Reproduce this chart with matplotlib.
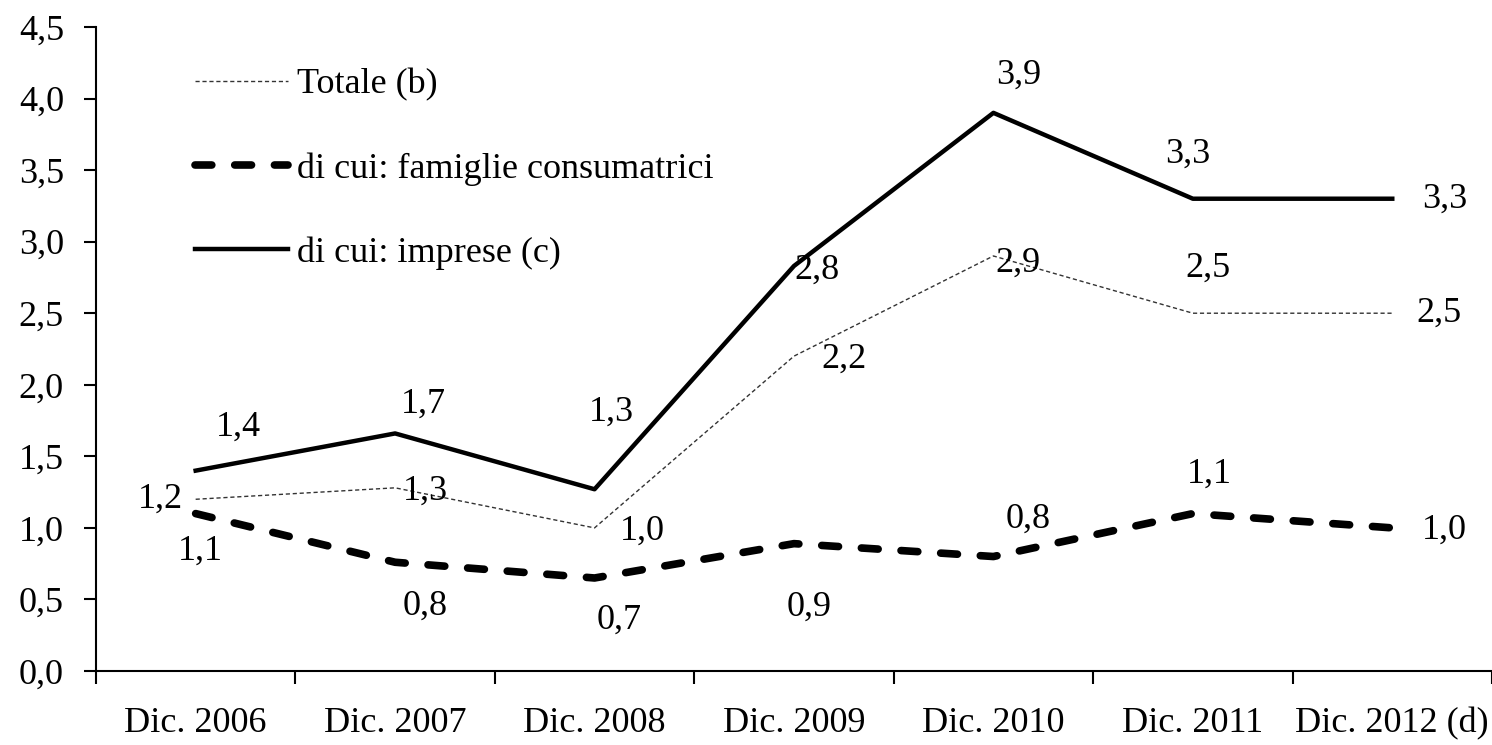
import matplotlib.pyplot as plt
from matplotlib.ticker import FuncFormatter

plt.rcParams['font.family'] = ['Liberation Serif', 'DejaVu Serif']

categorie = ['Dic. 2006', 'Dic. 2007', 'Dic. 2008', 'Dic. 2009',
             'Dic. 2010', 'Dic. 2011', 'Dic. 2012 (d)']
totale = [1.2, 1.28, 1.0, 2.2, 2.9, 2.5, 2.5]
famiglie = [1.1, 0.76, 0.65, 0.89, 0.8, 1.1, 1.0]
imprese = [1.4, 1.66, 1.27, 2.83, 3.9, 3.3, 3.3]

lab_totale = ['1,2', '1,3', '1,0', '2,2', '2,9', '2,5', '2,5']
lab_famiglie = ['1,1', '0,8', '0,7', '0,9', '0,8', '1,1', '1,0']
lab_imprese = ['1,4', '1,7', '1,3', '2,8', '3,9', '3,3', '3,3']

# label offsets in pixels (dx, dy up)
off_totale = [(-35, 0), (30, -3), (48, -3), (50, -3), (25, -7), (15, 45), (47, 0)]
off_famiglie = [(5, -38), (30, -44), (25, -42), (15, -64), (35, 37), (17, 39), (52, -2)]
off_imprese = [(43, 43), (28, 29), (17, 77), (23, -4), (25, 38), (-5, 44), (52, -1)]

FS = 26

fig = plt.figure(figsize=(14.92, 7.45), dpi=100)
ax = fig.add_axes([0.0643, 0.0993, 0.9357, 0.8645])

x = list(range(len(categorie)))
ax.plot(x, totale, color='#333333', lw=1.0, ls=(0, (3, 2)), label='Totale (b)')
ax.plot(x, famiglie, color='black', lw=5.5, ls=(0, (2.2, 3.0)), dash_capstyle='round',
        label='di cui: famiglie consumatrici')
ax.plot(x, imprese, color='black', lw=3.2, label='di cui: imprese (c)')

for vals, labs, offs in [(totale, lab_totale, off_totale),
                         (famiglie, lab_famiglie, off_famiglie),
                         (imprese, lab_imprese, off_imprese)]:
    for xi, v, t, (dx, dy) in zip(x, vals, labs, offs):
        ax.annotate(t, (xi, v), xytext=(dx, dy), textcoords='offset pixels',
                    ha='center', va='center', fontsize=FS)

ax.set_xlim(-0.5, 6.5)
ax.set_ylim(0, 4.5)
ax.set_yticks([i * 0.5 for i in range(10)])
ax.yaxis.set_major_formatter(FuncFormatter(lambda v, p: f'{v:.1f}'.replace('.', ',')))
ax.set_xticks([i + 0.5 for i in range(-1, 7)])
ax.set_xticklabels([])
ax.set_xticks(x, minor=True)
ax.set_xticklabels(categorie, minor=True)
ax.tick_params(axis='x', which='minor', length=0, pad=26, labelsize=FS)
ax.tick_params(axis='x', which='major', length=9, width=1.5, direction='out')
ax.tick_params(axis='y', length=9, width=1.5, direction='out', labelsize=FS, pad=14)

for s in ['top', 'right']:
    ax.spines[s].set_visible(False)
for s in ['left', 'bottom']:
    ax.spines[s].set_linewidth(1.5)

ax.legend(loc='upper left', bbox_to_anchor=(0.048, 0.986), frameon=False, fontsize=FS,
          handlelength=2.55, handletextpad=0.25, labelspacing=1.4)

fig.savefig('out.png', dpi=100)
